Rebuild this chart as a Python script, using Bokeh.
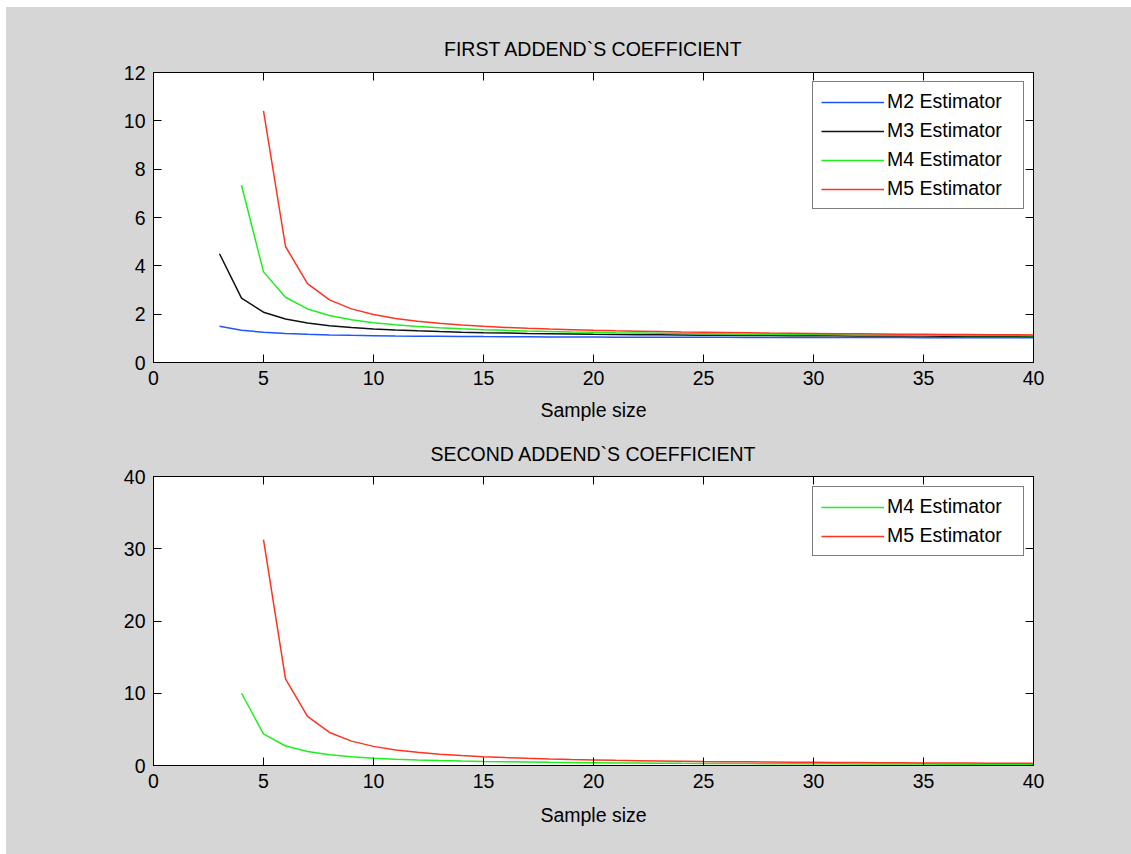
from bokeh.plotting import figure
from bokeh.models import LinearAxis, Range1d, FixedTicker, Legend, LegendItem
from bokeh.layouts import column
from bokeh.embed import file_html
from bokeh.resources import INLINE

# ---------------- data ----------------
sample_size = [3, 4, 5, 6, 7, 8, 9, 10, 11, 12, 13, 14, 15, 16, 17, 18, 19, 20, 21,
               22, 23, 24, 25, 26, 27, 28, 29, 30, 31, 32, 33, 34, 35, 36, 37, 38, 39, 40]

m2_first = [1.500, 1.333, 1.250, 1.200, 1.167, 1.143, 1.125, 1.111, 1.100, 1.091, 1.083,
            1.077, 1.071, 1.067, 1.063, 1.059, 1.056, 1.053, 1.050, 1.048, 1.045, 1.043,
            1.042, 1.040, 1.038, 1.037, 1.036, 1.034, 1.033, 1.032, 1.031, 1.030, 1.029,
            1.029, 1.028, 1.027, 1.026, 1.026]
m3_first = [4.500, 2.667, 2.083, 1.800, 1.633, 1.524, 1.446, 1.389, 1.344, 1.309, 1.280,
            1.256, 1.236, 1.219, 1.204, 1.191, 1.180, 1.170, 1.161, 1.152, 1.145, 1.138,
            1.132, 1.127, 1.122, 1.117, 1.112, 1.108, 1.105, 1.101, 1.098, 1.095, 1.092,
            1.089, 1.087, 1.084, 1.082, 1.080]
m4_first = [7.333, 3.750, 2.700, 2.217, 1.943, 1.768, 1.647, 1.558, 1.491, 1.438, 1.395,
            1.360, 1.330, 1.305, 1.284, 1.265, 1.249, 1.234, 1.221, 1.210, 1.199, 1.190,
            1.181, 1.173, 1.166, 1.160, 1.154, 1.148, 1.143, 1.138, 1.133, 1.129, 1.125,
            1.121, 1.118, 1.114, 1.111]
m5_first = [10.417, 4.800, 3.267, 2.590, 2.218, 1.984, 1.825, 1.709, 1.622, 1.553, 1.499,
            1.453, 1.416, 1.384, 1.357, 1.333, 1.312, 1.294, 1.278, 1.263, 1.250, 1.238,
            1.227, 1.217, 1.208, 1.200, 1.192, 1.185, 1.179, 1.172, 1.167, 1.161, 1.156,
            1.151, 1.147, 1.143]

m4_second = [10.000, 4.375, 2.700, 1.925, 1.486, 1.205, 1.012, 0.871, 0.764, 0.680, 0.612,
             0.556, 0.510, 0.471, 0.437, 0.407, 0.382, 0.359, 0.339, 0.321, 0.305, 0.290,
             0.277, 0.265, 0.254, 0.243, 0.234, 0.225, 0.217, 0.210, 0.203, 0.196, 0.190,
             0.184, 0.179, 0.173, 0.169]
m5_second = [31.250, 12.000, 6.806, 4.571, 3.375, 2.646, 2.161, 1.818, 1.565, 1.371, 1.218,
             1.094, 0.992, 0.908, 0.836, 0.774, 0.721, 0.674, 0.633, 0.596, 0.564, 0.534,
             0.508, 0.484, 0.462, 0.442, 0.424, 0.407, 0.391, 0.377, 0.363, 0.351, 0.339,
             0.328, 0.318, 0.308]

x_ticks = [0, 5, 10, 15, 20, 25, 30, 35, 40]
y_ticks_top = [0, 2, 4, 6, 8, 10, 12]
y_ticks_bottom = [0, 10, 20, 30, 40]

labels = ["M2 Estimator", "M3 Estimator", "M4 Estimator", "M5 Estimator"]
titles = ["FIRST ADDEND`S COEFFICIENT", "SECOND ADDEND`S COEFFICIENT"]
x_label = "Sample size"

# ---------------- style ----------------
FONT = "Liberation Sans"
FS = "19.5px"
GRAY = "#d6d6d6"
C_BLUE, C_BLACK, C_GREEN, C_RED = "#1f55ff", "#111111", "#1fee1f", "#ff3322"


def style_axis(ax, show_labels, ticks):
    ax.ticker = FixedTicker(ticks=ticks)
    ax.axis_line_color = "black"
    ax.major_tick_line_color = "black"
    ax.major_tick_in = 8
    ax.major_tick_out = 0
    ax.minor_tick_in = 0
    ax.minor_tick_out = 0
    ax.minor_tick_line_color = None
    if show_labels:
        ax.major_label_text_font = FONT
        ax.major_label_text_font_size = FS
        ax.major_label_text_color = "black"
        ax.major_label_standoff = 8
    else:
        ax.major_label_text_font_size = "1px"
        ax.major_label_text_color = None
        ax.major_label_standoff = 0


def make_fig(height, b_top, b_bottom, y_end, y_ticks, title, label_standoff, title_standoff):
    p = figure(width=1125, height=height,
               x_range=Range1d(0, 40), y_range=Range1d(0, y_end),
               output_backend="svg", toolbar_location=None,
               min_border_left=147, min_border_right=98,
               min_border_top=b_top, min_border_bottom=b_bottom,
               background_fill_color="white", border_fill_color=GRAY,
               outline_line_color="black", outline_line_width=1)
    p.grid.visible = False
    style_axis(p.xaxis[0], True, x_ticks)
    style_axis(p.yaxis[0], True, y_ticks)
    p.xaxis.axis_label = x_label
    p.xaxis.axis_label_text_font = FONT
    p.xaxis.axis_label_text_font_size = FS
    p.xaxis.axis_label_text_font_style = "normal"
    p.xaxis.axis_label_text_color = "black"
    p.xaxis.axis_label_standoff = label_standoff
    ax_r = LinearAxis()
    style_axis(ax_r, False, y_ticks)
    p.add_layout(ax_r, "right")
    ax_t = LinearAxis()
    style_axis(ax_t, False, x_ticks)
    p.add_layout(ax_t, "above")
    p.title.text = title
    p.title.align = "center"
    p.title.text_font = FONT
    p.title.text_font_size = FS
    p.title.text_font_style = "normal"
    p.title.text_color = "black"
    p.title.standoff = title_standoff
    return p


def make_legend(items, loc):
    lg = Legend(items=items, location=loc, orientation="vertical")
    lg.border_line_color = "black"
    lg.border_line_width = 1
    lg.background_fill_color = "white"
    lg.background_fill_alpha = 1
    lg.label_text_font = FONT
    lg.label_text_font_size = FS
    lg.label_text_color = "black"
    lg.glyph_width = 63
    lg.glyph_height = 20
    lg.label_height = 20
    lg.label_width = 128
    lg.spacing = 6
    lg.padding = 8
    lg.margin = 0
    lg.label_standoff = 3
    return lg


# ---------------- top plot ----------------
p1 = make_fig(420, 65, 65, 12, y_ticks_top, titles[0], 11, 25)
r2 = p1.line(sample_size, m2_first, line_color=C_BLUE, line_width=1.5)
r3 = p1.line(sample_size, m3_first, line_color=C_BLACK, line_width=1.5)
r4 = p1.line(sample_size[1:], m4_first, line_color=C_GREEN, line_width=1.5)
r5 = p1.line(sample_size[2:], m5_first, line_color=C_RED, line_width=1.5)
p1.add_layout(make_legend([LegendItem(label=labels[0], renderers=[r2]),
                           LegendItem(label=labels[1], renderers=[r3]),
                           LegendItem(label=labels[2], renderers=[r4]),
                           LegendItem(label=labels[3], renderers=[r5])], (659, 153)))

# ---------------- bottom plot ----------------
p2 = make_fig(427, 49, 89, 40, y_ticks_bottom, titles[1], 13, 23)
s4 = p2.line(sample_size[1:], m4_second, line_color=C_GREEN, line_width=1.5)
s5 = p2.line(sample_size[2:], m5_second, line_color=C_RED, line_width=1.5)
p2.add_layout(make_legend([LegendItem(label=labels[2], renderers=[s4]),
                           LegendItem(label=labels[3], renderers=[s5])], (659, 209)))

layout = column(p1, p2, spacing=0, margin=(7, 0, 0, 6),
                styles={"background-color": GRAY})

with open("out.html", "w") as f:
    f.write(file_html(layout, INLINE))
